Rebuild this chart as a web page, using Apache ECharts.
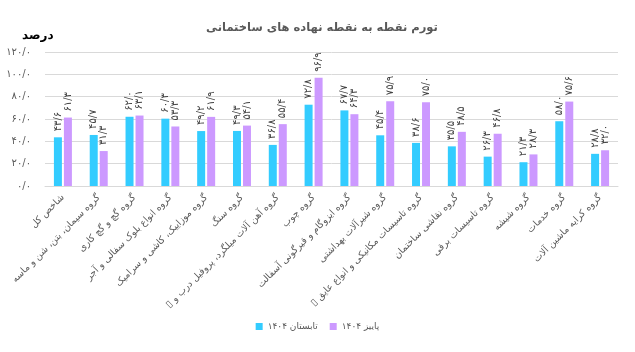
<!DOCTYPE html>
<html>
<head>
<meta charset="utf-8">
<script src="https://cdn.jsdelivr.net/npm/echarts@6/dist/echarts.min.js"></script>
<style>html,body{margin:0;padding:0;background:#fff}#c{width:635px;height:352px}</style>
</head>
<body>
<div id="c"></div>
<script>
var categories = [
  'شاخص کل',
  'گروه سیمان، بتن، شن و ماسه',
  'گروه گچ و گچ کاری',
  'گروه انواع بلوک سفالی و آجر',
  'گروه موزاییک، کاشی و سرامیک',
  'گروه سنگ',
  'گروه آهن آلات میلگرد، پروفیل درب و \u25AF\u200F',
  'گروه چوب',
  'گروه ایزوگام و قیرگونی آسفالت',
  'گروه شیرآلات بهداشتی',
  'گروه تاسیسات مکانیکی و انواع عایق \u25AF\u200F',
  'گروه نقاشی ساختمان',
  'گروه تاسیسات برقی',
  'گروه شیشه',
  'گروه خدمات',
  'گروه کرایه ماشین آلات'
];
var summer1404 = [43.6, 45.7, 62.0, 60.3, 49.2, 49.3, 36.8, 72.8, 67.7, 45.4, 38.6, 35.5, 26.3, 21.3, 58.0, 28.8];
var autumn1404 = [61.3, 31.3, 63.1, 53.3, 61.9, 54.1, 55.4, 96.9, 64.3, 75.9, 75.0, 48.5, 46.8, 28.3, 75.6, 32.0];
var seriesNames = ['تابستان ۱۴۰۴', 'پاییز ۱۴۰۴'];
var titleText = 'تورم نقطه به نقطه نهاده های ساختمانی';
var unitText = 'درصد';

function fa(v) {
  var s = Number(v).toFixed(1).replace('.', '/');
  return s.replace(/[0-9]/g, function (d) { return '۰۱۲۳۴۵۶۷۸۹'[+d]; });
}

var FONT = '"DejaVu Sans", sans-serif';
var chart = echarts.init(document.getElementById('c'));
var labelCfg = {
  show: true,
  position: 'top',
  rotate: 90,
  align: 'left',
  verticalAlign: 'middle',
  distance: 6,
  fontSize: 10,
  color: '#404040',
  fontFamily: FONT,
  formatter: function (p) { return fa(p.value); }
};
chart.setOption({
  animation: false,
  textStyle: { fontFamily: FONT },
  title: [{
    text: titleText,
    left: 317, top: 17, textAlign: 'center',
    textStyle: { fontSize: 11.5, fontWeight: 'bold', color: '#595959', fontFamily: FONT }
  }, {
    text: unitText,
    left: 17, top: 25,
    textStyle: { fontSize: 12, fontWeight: 'bold', color: '#000', fontFamily: FONT }
  }],
  legend: {
    data: seriesNames,
    left: 'center',
    top: 317,
    itemWidth: 7, itemHeight: 7, itemGap: 12,
    icon: 'rect',
    textStyle: { fontSize: 9, color: '#595959', fontFamily: FONT }
  },
  grid: { left: 45, right: 17, top: 52, bottom: 166, containLabel: false },
  xAxis: {
    type: 'category',
    data: categories,
    axisLine: { lineStyle: { color: '#d9d9d9' } },
    axisTick: { show: false },
    axisLabel: {
      interval: 0, rotate: 45, fontSize: 9.5, color: '#595959', fontFamily: FONT, margin: 10
    }
  },
  yAxis: {
    type: 'value', min: 0, max: 120, interval: 20,
    axisLine: { show: false }, axisTick: { show: false },
    splitLine: { lineStyle: { color: '#d9d9d9' } },
    axisLabel: { fontSize: 10, color: '#595959', margin: 14, fontFamily: FONT, formatter: function (v) { return fa(v); } }
  },
  series: [{
    name: seriesNames[0], type: 'bar', data: summer1404,
    barWidth: 8, barGap: '25%',
    itemStyle: { color: '#33CCFF' },
    label: labelCfg
  }, {
    name: seriesNames[1], type: 'bar', data: autumn1404,
    barWidth: 8,
    itemStyle: { color: '#CC99FF' },
    label: labelCfg
  }]
});
</script>
</body>
</html>
